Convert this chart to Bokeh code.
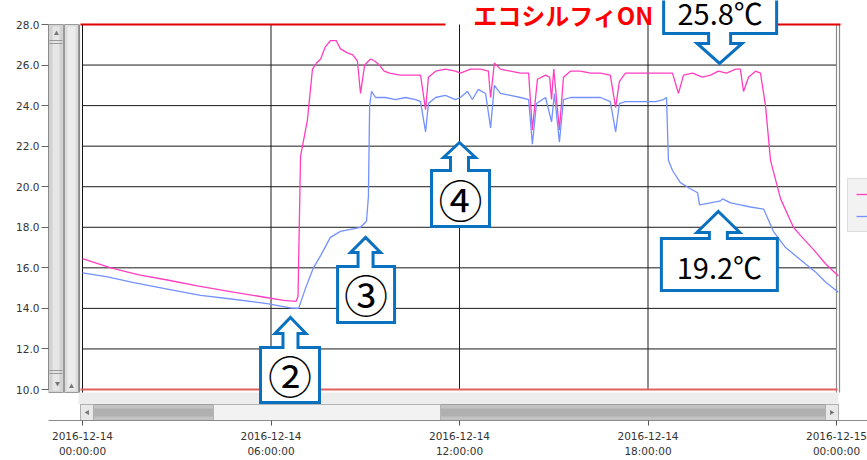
from bokeh.plotting import figure
from bokeh.models import (FixedTicker, NumeralTickFormatter, Legend, LegendItem,
                          Label, Range1d)
from bokeh.core.properties import value
from bokeh.embed import file_html
from bokeh.resources import INLINE

# ---------------- data (hours since 2016-12-14 00:00, temperature in C) ----------------
pink_hours = [0.0, 0.9, 1.8, 2.7, 3.7, 4.8, 5.8, 6.4, 6.8, 6.86, 6.94, 7.16, 7.32, 7.45, 7.58,
              7.73, 7.89, 8.08, 8.21, 8.43, 8.6, 8.75, 8.85, 8.98, 9.17, 9.3, 9.45, 9.6, 9.77,
              10.12, 10.44, 10.76, 10.92, 11.01, 11.24, 11.55, 11.87, 12.03, 12.35, 12.67,
              12.92, 12.99, 13.11, 13.3, 13.62, 13.94, 14.2, 14.32, 14.48, 14.74, 14.87, 14.93,
              15.0, 15.18, 15.31, 15.53, 15.85, 16.17, 16.49, 16.8, 16.97, 17.09, 17.28, 17.6,
              18.02, 18.4, 18.78, 18.97, 19.13, 19.42, 19.73, 19.99, 20.24, 20.5, 20.79, 20.94,
              21.04, 21.2, 21.42, 21.58, 21.74, 21.9, 22.22, 22.63, 22.85, 23.27, 23.65, 24.06]
pink_temps = [16.45, 16.0, 15.65, 15.4, 15.1, 14.8, 14.55, 14.4, 14.35, 14.6, 21.5, 23.3, 25.8,
              26.1, 26.3, 26.9, 27.2, 27.2, 26.8, 26.6, 26.5, 26.2, 24.6, 26.0, 26.3, 26.2, 26.0,
              25.7, 25.6, 25.5, 25.5, 25.5, 23.8, 25.4, 25.7, 25.8, 25.7, 25.6, 25.8, 25.8, 25.7,
              24.4, 26.1, 25.8, 25.7, 25.6, 25.6, 22.8, 25.3, 25.5, 25.4, 24.3, 25.8, 22.8, 25.4,
              25.7, 25.7, 25.6, 25.6, 25.5, 23.9, 25.2, 25.6, 25.6, 25.6, 25.6, 25.6, 24.6, 25.5,
              25.6, 25.4, 25.5, 25.7, 25.6, 25.8, 25.8, 24.7, 25.4, 25.7, 25.6, 24.0, 21.3, 19.4,
              18.0, 17.6, 16.9, 16.2, 15.6]

blue_hours = [0.0, 0.8, 1.63, 2.7, 3.76, 4.8, 5.88, 6.62, 6.88, 7.1, 7.35, 7.58, 7.89, 8.21,
              8.53, 8.85, 9.04, 9.1, 9.14, 9.2, 9.33, 9.64, 9.96, 10.28, 10.6, 10.76, 10.92,
              11.01, 11.24, 11.55, 11.87, 12.03, 12.25, 12.41, 12.6, 12.83, 12.99, 13.11, 13.3,
              13.62, 13.94, 14.2, 14.32, 14.45, 14.74, 14.93, 15.02, 15.18, 15.31, 15.53, 15.85,
              16.17, 16.49, 16.8, 16.97, 17.09, 17.28, 17.76, 18.24, 18.49, 18.59, 18.65, 18.78,
              19.03, 19.35, 19.58, 19.64, 19.99, 20.31, 20.37, 20.63, 20.94, 21.26, 21.68,
              21.99, 22.38, 22.85, 23.33, 23.65, 24.06]
blue_temps = [15.75, 15.55, 15.27, 14.95, 14.64, 14.45, 14.24, 14.02, 14.0, 15.0, 16.0, 16.6,
              17.5, 17.8, 17.9, 18.0, 18.3, 19.5, 24.0, 24.7, 24.4, 24.4, 24.3, 24.4, 24.3, 24.2,
              22.7, 24.1, 24.4, 24.5, 24.3, 24.4, 24.7, 24.3, 24.8, 24.6, 22.9, 25.0, 24.6, 24.5,
              24.4, 24.3, 22.1, 24.1, 24.4, 23.2, 24.6, 22.2, 24.3, 24.4, 24.4, 24.4, 24.4, 24.2,
              22.7, 24.1, 24.2, 24.2, 24.2, 24.3, 24.4, 21.3, 20.8, 20.2, 19.9, 19.7, 19.1, 19.2,
              19.3, 19.4, 19.2, 19.1, 19.0, 18.9, 17.8, 17.0, 16.4, 15.8, 15.3, 14.8]

y_ticks = [10, 12, 14, 16, 18, 20, 22, 24, 26, 28]
x_ticks = [0, 6, 12, 18, 24]
x_tick_labels = ["2016-12-14\n00:00:00", "2016-12-14\n06:00:00", "2016-12-14\n12:00:00",
                 "2016-12-14\n18:00:00", "2016-12-15\n00:00:00"]

title_text = "エコシルフィON"
callout_texts = ["②", "③", "④", "19.2℃", "25.8℃"]
callout_tip_hours = [6.62, 9.01, 12.0, 20.24, 20.28]
callout_tip_temps = [13.55, 17.50, 22.18, 18.78, 26.08]

# ---------------- layout helpers (pixel <-> data) ----------------
X0, PXH = 82.0, 754.0 / 24.0        # x pixel of hour 0, pixels per hour
Y28, PXV = 24.0, 365.0 / 18.0       # y pixel of 28.0, pixels per degree


def hx(px):
    return (px - X0) / PXH


def vy(py):
    return 28.0 - (py - Y28) / PXV


W, H = 867, 460
p = figure(width=W, height=H, output_backend="svg", toolbar_location=None,
           x_range=Range1d(hx(48), hx(867)), y_range=Range1d(vy(420), vy(0)),
           min_border_left=48, min_border_right=0, min_border_top=0, min_border_bottom=40)
p.outline_line_color = None
p.background_fill_color = "white"
p.border_fill_color = "white"
p.xgrid.visible = False
p.ygrid.visible = False

# axes
p.yaxis.ticker = FixedTicker(ticks=y_ticks)
p.yaxis.formatter = NumeralTickFormatter(format="0.0")
p.yaxis.bounds = (10, 28)
p.yaxis.major_tick_in = 0
p.yaxis.major_tick_out = 7
p.yaxis.minor_tick_line_color = None
p.yaxis.major_label_standoff = 2
p.yaxis.major_label_text_font = "DejaVu Sans"
p.yaxis.major_label_text_font_size = "10.5px"
p.yaxis.major_label_text_color = "#333333"
p.yaxis.axis_line_color = "#8a8a8a"
p.yaxis.major_tick_line_color = "#666666"

p.xaxis.ticker = FixedTicker(ticks=x_ticks)
p.xaxis.major_label_overrides = {t: s for t, s in zip(x_ticks, x_tick_labels)}
p.xaxis.major_tick_in = 0
p.xaxis.major_tick_out = 5
p.xaxis.minor_tick_line_color = None
p.xaxis.major_label_standoff = 4
p.xaxis.major_label_text_font = "DejaVu Sans"
p.xaxis.major_label_text_font_size = "10.5px"
p.xaxis.major_label_text_line_height = 1.3
p.xaxis.major_label_text_color = "#333333"
p.xaxis.axis_line_color = "#8a8a8a"
p.xaxis.major_tick_line_color = "#555555"

# ---------------- scrollbars (decoration) ----------------
p.quad(left=[hx(48)], right=[hx(63)], bottom=[vy(392)], top=[vy(24)],
       fill_color="#d2d2d2", line_color="#9a9a9a", line_width=1)
p.quad(left=[hx(52)], right=[hx(59)], bottom=[vy(390)], top=[vy(26)],
       fill_color="#e6e6e6", line_color=None)
p.quad(left=[hx(64)], right=[hx(78)], bottom=[vy(392)], top=[vy(24)],
       fill_color="#dcdcdc", line_color="#9a9a9a", line_width=1)
p.quad(left=[hx(67)], right=[hx(75)], bottom=[vy(390)], top=[vy(26)],
       fill_color="#ececec", line_color=None)
p.segment(x0=[hx(49)] * 4, x1=[hx(62)] * 4, y0=[vy(40), vy(43), vy(370), vy(373)],
          y1=[vy(40), vy(43), vy(370), vy(373)], line_color="#9a9a9a", line_width=1)
p.scatter(x=[hx(56)], y=[vy(33)], marker="triangle", size=5, fill_color="#777777", line_color=None)
p.scatter(x=[hx(57)], y=[vy(383)], marker="inverted_triangle", size=5, fill_color="#777777", line_color=None)
p.scatter(x=[hx(71)], y=[vy(386)], marker="triangle", size=5, fill_color="#777777", line_color=None)

p.quad(left=[hx(78)], right=[hx(838)], bottom=[vy(404)], top=[vy(392)],
       fill_color="#ededed", line_color=None)
p.quad(left=[hx(80)], right=[hx(838)], bottom=[vy(420)], top=[vy(404)],
       fill_color="#c2c2c2", line_color="#a0a0a0", line_width=1)
p.quad(left=[hx(80)], right=[hx(838)], bottom=[vy(416)], top=[vy(408)],
       fill_color="#b0b0b0", line_color=None)
p.quad(left=[hx(213)], right=[hx(440)], bottom=[vy(420)], top=[vy(404)],
       fill_color="#f2f2f2", line_color="#b4b4b4", line_width=1)
p.quad(left=[hx(80), hx(825)], right=[hx(93), hx(838)], bottom=[vy(420)] * 2, top=[vy(404)] * 2,
       fill_color="#e8e8e8", line_color="#b0b0b0", line_width=1)
p.scatter(x=[hx(87)], y=[vy(412)], marker="triangle", angle=1.5708, size=5,
          fill_color="#777777", line_color=None)
p.scatter(x=[hx(831)], y=[vy(412)], marker="triangle", angle=-1.5708, size=5,
          fill_color="#777777", line_color=None)

# ---------------- plot area grid and borders ----------------
p.quad(left=[0], right=[24], bottom=[10], top=[28], fill_color="white", line_color=None)
inner_y = [t for t in y_ticks if 10 < t < 28]
p.segment(x0=[0] * len(inner_y), x1=[24] * len(inner_y), y0=inner_y, y1=inner_y,
          line_color="#1a1a1a", line_width=1)
inner_x = [t for t in x_ticks if 0 < t < 24]
p.segment(x0=inner_x, x1=inner_x, y0=[10] * len(inner_x), y1=[28] * len(inner_x),
          line_color="#1a1a1a", line_width=1)
p.segment(x0=[0], x1=[0], y0=[vy(392)], y1=[28], line_color="#111111", line_width=1)
p.segment(x0=[hx(79), hx(836), hx(839)], x1=[hx(79), hx(836), hx(839)],
          y0=[vy(392)] * 3, y1=[28] * 3, line_color="#8a8a8a", line_width=1.2)
# red limit lines
p.segment(x0=[hx(80), hx(776)], x1=[hx(445), hx(840)], y0=[28, 28], y1=[28, 28],
          line_color="#e00000", line_width=2)
p.segment(x0=[hx(80)], x1=[hx(837)], y0=[10], y1=[10], line_color="#e06060", line_width=2)

# ---------------- data lines ----------------
r_pink = p.line(pink_hours, pink_temps, line_color="#ff3dbf", line_width=1.3)
r_blue = p.line(blue_hours, blue_temps, line_color="#7391ff", line_width=1.3)

# ---------------- callouts ----------------
# (head half-width, head height, shaft half-width, shaft height, box left, box right, box height, direction)
callout_geom = [
    (15.5, 16, 7.5, 14, -30, 29, 55, 1),
    (15.0, 15, 7.5, 14, -28, 29, 56, 1),
    (16.0, 15, 9.0, 13, -28, 30, 56, 1),
    (21.5, 21, 9.0, 6, -57, 59, 52, 1),
    (22.5, 20, 11.0, 10, -56, 57, 46, -1),
]
xs, ys, tx, ty = [], [], [], []
for th, tv, (hw, hh, sw, sh, bl, br, bh, d) in zip(callout_tip_hours, callout_tip_temps, callout_geom):
    pts = [(0, 0), (hw, hh), (sw, hh), (sw, hh + sh), (br, hh + sh), (br, hh + sh + bh),
           (bl, hh + sh + bh), (bl, hh + sh), (-sw, hh + sh), (-sw, hh), (-hw, hh)]
    xs.append([th + dx / PXH for dx, dy in pts])
    ys.append([tv - d * dy / PXV for dx, dy in pts])
    tx.append(th + (bl + br) / 2.0 / PXH)
    ty.append(tv - d * (hh + sh + bh / 2.0) / PXV)
p.patches(xs, ys, fill_color="white", line_color="#0a70c0", line_width=3, line_join="miter")

for i, t in enumerate(callout_texts):
    size = "44px" if i < 3 else "29px"
    yoff = 0 if i < 3 else 2
    p.add_layout(Label(x=tx[i], y=ty[i], y_offset=-yoff, text=t, text_align="center",
                       text_baseline="middle", text_font="Noto Sans CJK JP",
                       text_font_size=size, text_color="black"))

p.add_layout(Label(x=hx(563), y=vy(14), text=title_text, text_align="center",
                   text_baseline="middle", text_font="Noto Sans CJK JP",
                   text_font_style="bold", text_font_size="24px", text_color="#ff0000"))

# ---------------- legend ----------------
legend = Legend(items=[LegendItem(label=" ", renderers=[r_pink]),
                       LegendItem(label=" ", renderers=[r_blue])],
                location=(799, 188), glyph_width=22, glyph_height=14, spacing=8,
                padding=8, margin=0, label_text_font_size="10px",
                border_line_color="#c8c8c8", background_fill_color="#f2f2f2",
                background_fill_alpha=1.0)
p.add_layout(legend, "center")

open("out.html", "w").write(file_html(p, INLINE))
